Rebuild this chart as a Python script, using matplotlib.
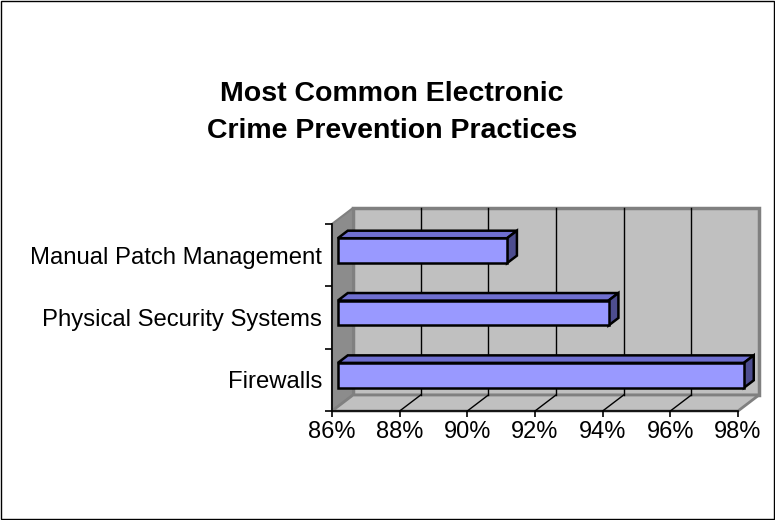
import matplotlib.pyplot as plt
from matplotlib.patches import Polygon, Rectangle

plt.rcParams['font.family'] = ['Liberation Sans', 'DejaVu Sans']

# data (bottom to top, as drawn)
categories = ["Firewalls", "Physical Security Systems", "Manual Patch Management"]
values = [98, 94, 91]
x_ticks = [86, 88, 90, 92, 94, 96, 98]
title_lines = ["Most Common Electronic", "Crime Prevention Practices"]

# colours
front_col = '#9999ff'
top_col = '#6f6fd0'
side_col = '#4d4d8f'
wall_col = '#c0c0c0'
side_wall_col = '#8c8c8c'
edge_gray = '#808080'

W, H = 775, 520
fig = plt.figure(figsize=(W / 100, H / 100), dpi=100)
ax = fig.add_axes([332 / W, (H - 411) / H, (738 - 332) / W, (411 - 224) / H])
ax.set_xlim(x_ticks[0], x_ticks[-1])
ax.set_ylim(0, len(categories))
ax.patch.set_visible(False)

x0, x1 = x_ticks[0], x_ticks[-1]
ncat = len(categories)
# depth vector in data units (full depth of the box)
DX = 21 * (x1 - x0) / (738 - 332)
DY = 16 * ncat / (411 - 224)


def P(x, y, z):
    return (x + z * DX, y + z * DY)


def poly(pts, fc, ec, lw, z):
    ax.add_patch(Polygon(pts, closed=True, facecolor=fc, edgecolor=ec,
                         linewidth=lw, clip_on=False, zorder=z, joinstyle='miter'))


# back wall
poly([P(x0, 0, 1), P(x1, 0, 1), P(x1, ncat, 1), P(x0, ncat, 1)], wall_col, edge_gray, 2.5, 1)
# left wall
poly([P(x0, 0, 0), P(x0, 0, 1), P(x0, ncat, 1), P(x0, ncat, 0)], side_wall_col, edge_gray, 1.5, 1)
# floor
poly([P(x0, 0, 0), P(x1, 0, 0), P(x1, 0, 1), P(x0, 0, 1)], wall_col, edge_gray, 2, 1)

# gridlines on back wall and floor
for t in x_ticks[1:-1]:
    a, b = P(t, 0, 1), P(t, ncat, 1)
    ax.plot([a[0], b[0]], [a[1], b[1]], color='black', lw=1, zorder=2, clip_on=False)
    c, d = P(t, 0, 0), P(t, 0, 1)
    ax.plot([c[0], d[0]], [c[1], d[1]], color='black', lw=1, zorder=2, clip_on=False)

# 3d bars
z0, z1 = 0.28, 0.75
h = 0.2
for i, v in enumerate(values):
    yc = i + 0.5
    lo, hi = yc - h, yc + h
    poly([P(x0, hi, z0), P(v, hi, z0), P(v, hi, z1), P(x0, hi, z1)], top_col, 'black', 1.8, 4)
    poly([P(v, lo, z0), P(v, lo, z1), P(v, hi, z1), P(v, hi, z0)], side_col, 'black', 1.8, 4)
    poly([P(x0, lo, z0), P(v, lo, z0), P(v, hi, z0), P(x0, hi, z0)], front_col, 'black', 1.8, 5)

# axes
for s in ['top', 'right']:
    ax.spines[s].set_visible(False)
for s in ['left', 'bottom']:
    ax.spines[s].set_color('black')
    ax.spines[s].set_linewidth(1.2)
    ax.spines[s].set_zorder(6)

ax.set_xticks(x_ticks)
ax.set_xticklabels([f"{t}%" for t in x_ticks], fontsize=17)
ax.tick_params(axis='x', direction='out', length=4, width=1.2, pad=3)

ax.set_yticks([i + 0.5 for i in range(ncat)])
ax.set_yticklabels(categories, fontsize=17.2)
ax.tick_params(axis='y', which='major', length=0, pad=7)
ax.set_yticks(range(ncat + 1), minor=True)
ax.tick_params(axis='y', which='minor', direction='out', length=5, width=1.2)

for k, line in enumerate(title_lines):
    fig.text(392 / W, 1 - (94 + 37 * k) / H, line, ha='center', va='center',
             fontsize=20.5, fontweight='bold')

# outer border
fig.add_artist(Rectangle((1 / W, 1.5 / H), (W - 2.5) / W, (H - 2.5) / H,
                         transform=fig.transFigure, fill=False, edgecolor='black', lw=1))

fig.savefig('out.png', dpi=100)
